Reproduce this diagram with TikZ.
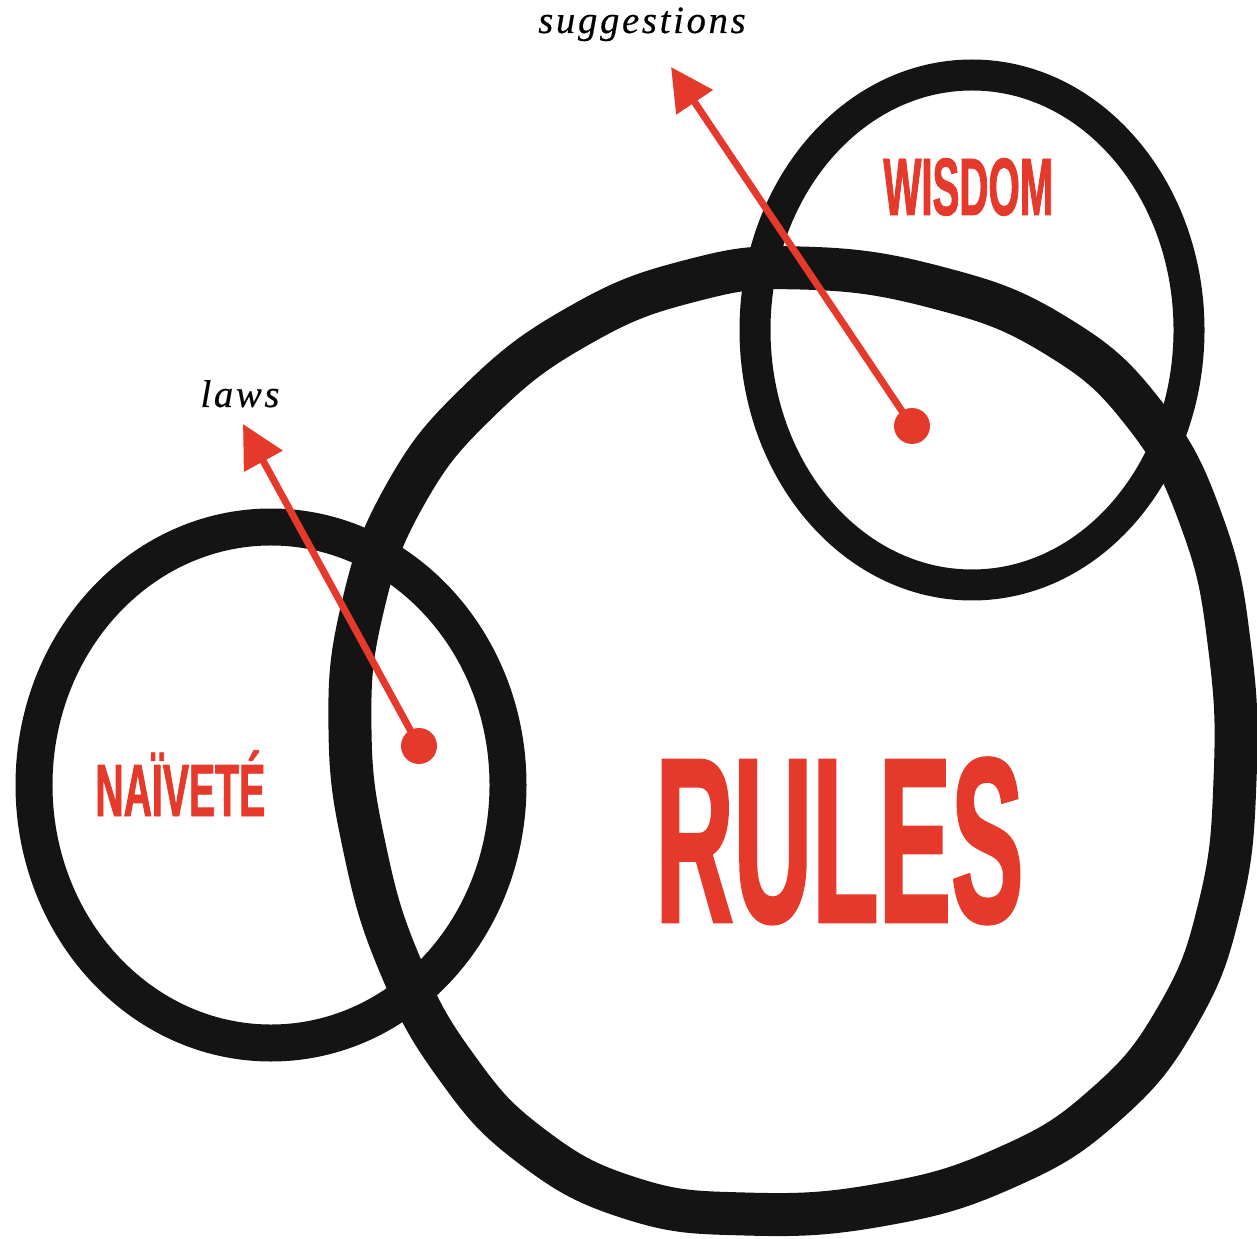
\documentclass[tikz,border=0pt]{standalone}
\usepackage{fontspec}
\usepackage{graphicx}
\usetikzlibrary{arrows.meta}
\newfontfamily\condfont[FakeStretch=0.55,FakeBold=1.1]{Liberation Sans}
\newfontfamily\itafont[LetterSpace=7,FakeBold=0.4]{Liberation Serif}
\definecolor{redc}{HTML}{E5392B}
\definecolor{ink}{HTML}{141414}
\newcommand\capbox[1]{\raisebox{0pt}[\fontcharht\font`\N][0pt]{#1}}
\tikzset{
  ring/.style={draw=ink, line width=#1, line join=round},
  reddot/.style={circle, fill=redc, inner sep=0pt, minimum size=0.72cm},
  redarrow/.style={draw=redc, line width=0.14cm, -{Triangle[length=0.85cm,width=0.85cm]}},
  caplabel/.style={text=redc, inner sep=0pt, font=\condfont\bfseries},
  italabel/.style={text=black, inner sep=0pt, font=\itafont\fontsize{22}{22}\selectfont\itshape}
}
\begin{document}
\begin{tikzpicture}[x=0.02cm,y=-0.02cm]
\useasboundingbox (0,0) rectangle (1257,1239);
% rings
\draw[ring=0.74cm] (271,785) ellipse [x radius=237, y radius=258];
\draw[ring=0.86cm] plot[smooth cycle, tension=0.75] coordinates {
 (800,268) (935,287) (1055,335) (1145,415) (1203,525) (1230,650) (1235,780)
 (1220,905) (1178,1015) (1105,1105) (1005,1168) (880,1205) (745,1214)
 (630,1198) (530,1145) (455,1065) (400,965) (365,850) (350,730) (362,610)
 (405,495) (480,400) (580,325) (690,281)};
\draw[ring=0.62cm] (972,330) ellipse [x radius=217, y radius=255];
% arrows
\node[reddot] (dotW) at (912,426) {};
\node[reddot] (dotN) at (419,746) {};
\coordinate (tipW) at (671,67);
\coordinate (tipN) at (243,424);
\draw[redarrow] (dotW.center) -- (tipW);
\draw[redarrow] (dotN.center) -- (tipN);
% labels
\node[italabel, anchor=base] (sugg) at (642,33) {suggestions};
\node[italabel, anchor=base] (laws) at (240,407) {laws};
\node[caplabel, anchor=base west] (rules) at (655,922) {\resizebox{7.36cm}{3.24cm}{\capbox{RULES}}};
\node[caplabel, anchor=base west] (wisdom) at (883,215) {\resizebox{3.4cm}{1.12cm}{\capbox{WISDOM}}};
\node[caplabel, anchor=base west] (naivete) at (95,816) {\resizebox{3.4cm}{1.02cm}{\capbox{NAÏVETÉ}}};
\end{tikzpicture}
\end{document}
